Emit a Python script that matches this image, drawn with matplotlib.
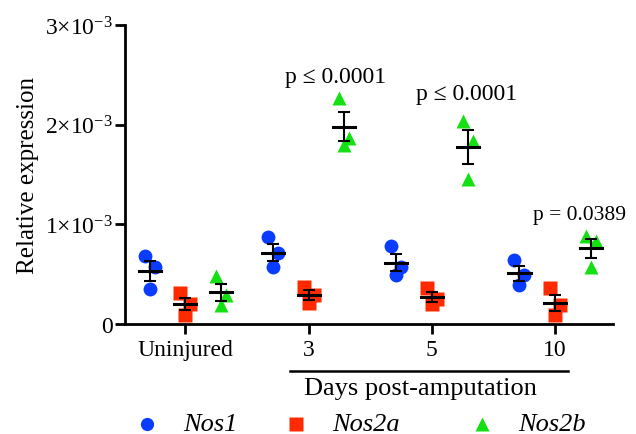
import numpy as np
import matplotlib
matplotlib.use('Agg')
import matplotlib.pyplot as plt
from matplotlib.lines import Line2D

plt.rcParams['font.family'] = ['Liberation Serif', 'DejaVu Serif']
plt.rcParams['mathtext.fontset'] = 'custom'
plt.rcParams['mathtext.rm'] = 'Liberation Serif'
plt.rcParams['mathtext.it'] = 'Liberation Serif:italic'

# data (relative expression, x1e-3)
groups = ['Uninjured', '3', '5', '10']
nos1 = [[0.68, 0.57, 0.35], [0.87, 0.71, 0.57], [0.78, 0.57, 0.49], [0.64, 0.49, 0.39]]
nos2a = [[0.31, 0.20, 0.09], [0.37, 0.29, 0.21], [0.36, 0.25, 0.20], [0.36, 0.19, 0.09]]
nos2b = [[0.48, 0.29, 0.19], [2.27, 1.87, 1.80], [2.04, 1.84, 1.45], [0.88, 0.83, 0.57]]
series_names = ['Nos1', 'Nos2a', 'Nos2b']
pvals = ['p \u2264 0.0001', 'p \u2264 0.0001', 'p = 0.0389']

colors = ['#0A3CFF', '#FF2A00', '#14E014']
markers = ['o', 's', '^']
msizes = [10, 10, 10]
offsets = [-0.29, 0.0, 0.29]
jit = np.array([-0.04, 0.04, 0.0])

fig = plt.figure(figsize=(6.36, 4.35), dpi=100)
ax = fig.add_axes([0.1965, 0.2529, 0.7675, 0.6873])

x = np.arange(len(groups))
for k, data in enumerate([nos1, nos2a, nos2b]):
    for i, vals in enumerate(data):
        v = np.array(vals) * 1e-3
        xs = x[i] + offsets[k] + jit
        ax.plot(xs, v, ls='none', marker=markers[k], ms=msizes[k],
                color=colors[k], mec='none', zorder=2)
        m = v.mean()
        sem = v.std(ddof=1) / np.sqrt(len(v))
        xc = x[i] + offsets[k]
        ax.errorbar(xc, m, yerr=sem, fmt='none', ecolor='black',
                    elinewidth=1.5, capsize=4.5, capthick=1.5, zorder=3)
        ax.plot([xc - 0.09, xc + 0.09], [m, m], color='black', lw=2.2, zorder=3)

# p-value labels above Nos2b groups
ax.text(x[1] + 0.22, 2.38e-3, pvals[0], ha='center', va='bottom', fontsize=17)
ax.text(x[2] + 0.28, 2.21e-3, pvals[1], ha='center', va='bottom', fontsize=17)
ax.text(x[3] + 0.20, 1.0e-3, pvals[2], ha='center', va='bottom', fontsize=15.5)

ax.set_xlim(-0.49, 3.47)
ax.set_ylim(0, 3e-3)
ax.set_yticks([0, 1e-3, 2e-3, 3e-3])
ax.set_yticklabels(['0', r'$1{\times}10^{-3}$', r'$2{\times}10^{-3}$', r'$3{\times}10^{-3}$'])
ax.set_xticks(x)
ax.set_xticklabels(groups)
ax.set_ylabel('Relative expression', fontsize=18, labelpad=4)
ax.tick_params(axis='both', width=2, length=7, labelsize=17, color='black')
ax.tick_params(axis='x', pad=4)
ax.tick_params(axis='y', pad=2)
for s in ['top', 'right']:
    ax.spines[s].set_visible(False)
for s in ['left', 'bottom']:
    ax.spines[s].set_linewidth(2)

# "Days post-amputation" bracket
fig.add_artist(Line2D([290 / 636, 568 / 636], [1 - 372 / 435, 1 - 372 / 435],
                      transform=fig.transFigure, color='black', lw=1.8))
fig.text(420 / 636, 1 - 389 / 435, 'Days post-amputation', ha='center', va='center', fontsize=19)

# legend
leg_x = [147, 296, 482]
for k in range(3):
    fig.add_artist(Line2D([leg_x[k] / 636], [1 - 425 / 435], transform=fig.transFigure,
                          ls='none', marker=markers[k], ms=9.5, color=colors[k], mec='none'))
    fig.text((leg_x[k] + 36) / 636, 1 - 425 / 435, series_names[k], ha='left', va='center',
             fontsize=19, style='italic')

fig.savefig('out.png', dpi=100)
